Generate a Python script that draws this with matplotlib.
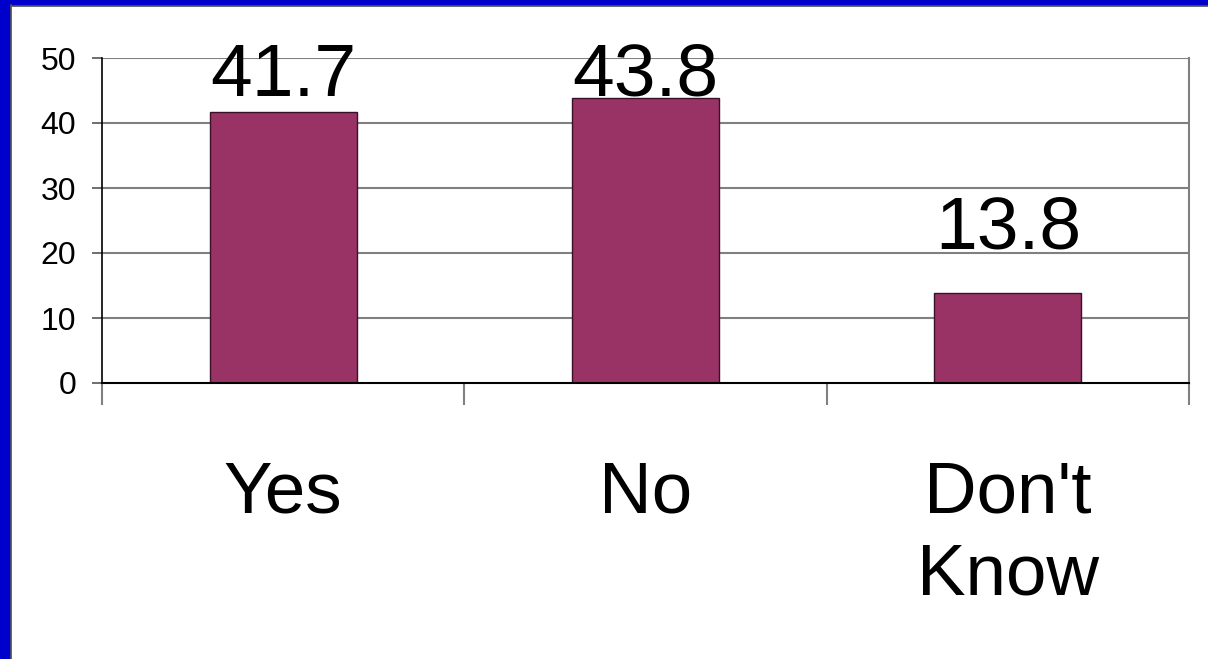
import matplotlib
matplotlib.use("Agg")
import matplotlib.pyplot as plt
from matplotlib.patches import Rectangle
from matplotlib.lines import Line2D

categories = ["Yes", "No", "Don't\nKnow"]
values = [41.7, 43.8, 13.8]
value_labels = ["41.7", "43.8", "13.8"]
yticks = [0, 10, 20, 30, 40, 50]

# style: vertical offsets (points) of the value labels above bar tops
label_offsets = [11.5, 1.8, 32.0]

plt.rcParams['font.family'] = ['Liberation Sans', 'DejaVu Sans']

W, H = 1208, 659
fig = plt.figure(figsize=(W / 100, H / 100), dpi=100)
fig.patch.set_facecolor('white')

# blue frame (left and top strips)
blue = '#0000CC'
fig.add_artist(Rectangle((0, 0), 10 / W, 1, transform=fig.transFigure, color=blue, zorder=0))
fig.add_artist(Rectangle((0, 1 - 5 / H), 1, 5 / H, transform=fig.transFigure, color=blue, zorder=0))
fig.add_artist(Line2D([11 / W, 11 / W], [0, 1 - 5 / H], transform=fig.transFigure, color='#555555', lw=1.2))
fig.add_artist(Line2D([11 / W, 1], [1 - 5.5 / H, 1 - 5.5 / H], transform=fig.transFigure, color='#555555', lw=1.2))

ax = fig.add_axes([102 / W, 1 - 383 / H, (1189 - 102) / W, (383 - 58) / H])
ax.set_facecolor('white')

x = list(range(len(categories)))
ax.bar(x, values, width=0.406, color='#993366', edgecolor='#3a1026', linewidth=1.0, zorder=3)

ax.set_xlim(-0.5, 2.5)
ax.set_ylim(0, 50)

for yv in yticks[1:]:
    ax.axhline(yv, color='#808080', lw=1.5, zorder=1)

ax.spines['top'].set_visible(False)
ax.spines['right'].set_color('#808080')
ax.spines['right'].set_linewidth(1.5)
ax.spines['left'].set_color('black')
ax.spines['left'].set_linewidth(1.2)
ax.spines['bottom'].set_color('black')
ax.spines['bottom'].set_linewidth(1.5)
ax.spines['bottom'].set_zorder(4)

ax.set_yticks(yticks)
ax.set_yticklabels([str(v) for v in yticks], fontsize=23)
ax.tick_params(axis='y', direction='out', length=7.2, width=1.2, color='#555555', pad=11.5)

# category boundary ticks
ax.set_xticks([-0.5, 0.5, 1.5, 2.5])
ax.set_xticklabels([])
ax.tick_params(axis='x', which='major', direction='out', length=16, width=1.5, color='#808080')
ax.xaxis.get_major_ticks()[0].tick1line.set_color('black')

# category labels
ax.set_xticks(x, minor=True)
ax.set_xticklabels(categories, minor=True, fontsize=52.5, linespacing=1.28)
ax.tick_params(axis='x', which='minor', length=0, pad=56)

for xi, v, lab, off in zip(x, values, value_labels, label_offsets):
    ax.annotate(lab, (xi, v), xytext=(0, off), textcoords='offset points',
                ha='center', va='baseline', fontsize=54, zorder=5)

fig.savefig('out.png', dpi=100, facecolor='white')
